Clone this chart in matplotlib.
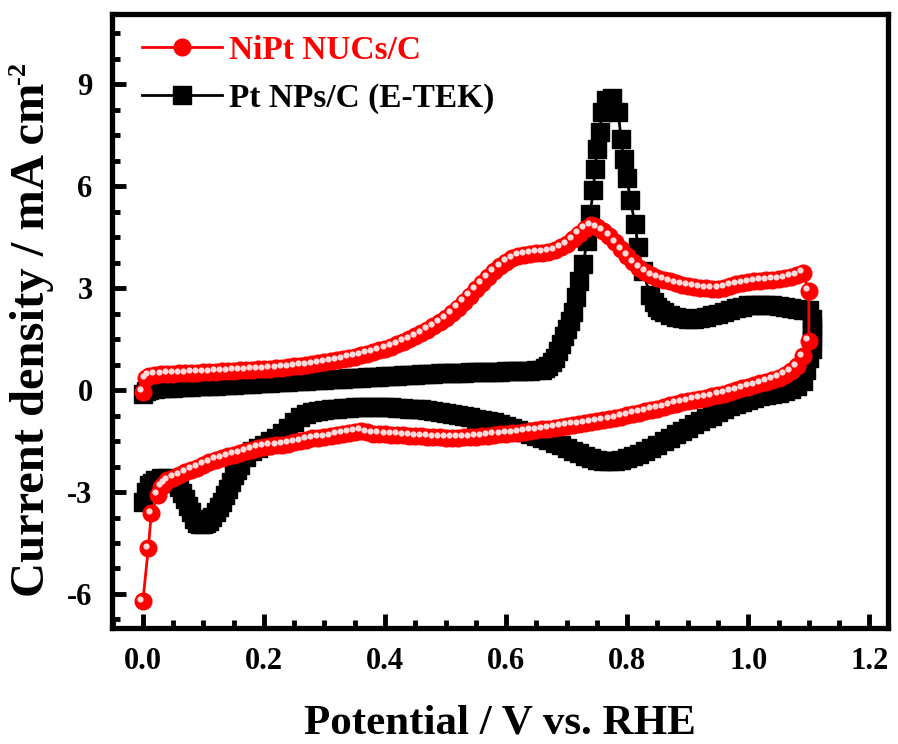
import numpy as np
import matplotlib
matplotlib.use("Agg")
import matplotlib.pyplot as plt
from matplotlib.ticker import MultipleLocator, AutoMinorLocator
from matplotlib.transforms import offset_copy

# NiPt NUCs/C: anodic sweep then cathodic sweep (V vs RHE, mA cm^-2)
nipt_x = [
    0.00, 0.005, 0.01, 0.02, 0.03, 0.04, 0.05, 0.06, 0.07, 0.08, 0.09, 0.10,
    0.11, 0.12, 0.13, 0.14, 0.15, 0.16, 0.17, 0.18, 0.19, 0.20, 0.21, 0.22,
    0.23, 0.24, 0.25, 0.26, 0.27, 0.28, 0.29, 0.30, 0.31, 0.32, 0.33, 0.34,
    0.35, 0.36, 0.37, 0.38, 0.39, 0.40, 0.41, 0.42, 0.43, 0.44, 0.45, 0.46,
    0.47, 0.48, 0.49, 0.50, 0.51, 0.52, 0.53, 0.54, 0.55, 0.56, 0.57, 0.58,
    0.59, 0.60, 0.61, 0.62, 0.63, 0.64, 0.65, 0.66, 0.67, 0.68, 0.69, 0.70,
    0.71, 0.72, 0.73, 0.74, 0.75, 0.76, 0.77, 0.78, 0.79, 0.80, 0.81, 0.82,
    0.83, 0.84, 0.85, 0.86, 0.87, 0.88, 0.89, 0.90, 0.91, 0.92, 0.93, 0.94,
    0.95, 0.96, 0.97, 0.98, 0.99, 1.00, 1.01, 1.02, 1.03, 1.04, 1.05, 1.06,
    1.07, 1.08, 1.09, 1.10,
    1.10, 1.09, 1.08, 1.07, 1.06, 1.05, 1.04, 1.03, 1.02, 1.01, 1.00, 0.99,
    0.98, 0.97, 0.96, 0.95, 0.94, 0.93, 0.92, 0.91, 0.90, 0.89, 0.88, 0.87,
    0.86, 0.85, 0.84, 0.83, 0.82, 0.81, 0.80, 0.79, 0.78, 0.77, 0.76, 0.75,
    0.74, 0.73, 0.72, 0.71, 0.70, 0.69, 0.68, 0.67, 0.66, 0.65, 0.64, 0.63,
    0.62, 0.61, 0.60, 0.59, 0.58, 0.57, 0.56, 0.55, 0.54, 0.53, 0.52, 0.51,
    0.50, 0.49, 0.48, 0.47, 0.46, 0.45, 0.44, 0.43, 0.42, 0.41, 0.40, 0.39,
    0.38, 0.37, 0.36, 0.35, 0.34, 0.33, 0.32, 0.31, 0.30, 0.29, 0.28, 0.27,
    0.26, 0.25, 0.24, 0.23, 0.22, 0.21, 0.20, 0.19, 0.18, 0.17, 0.16, 0.15,
    0.14, 0.13, 0.12, 0.11, 0.10, 0.09, 0.08, 0.07, 0.06, 0.05, 0.04, 0.035,
    0.03, 0.025, 0.014, 0.009, 0.00,
]
nipt_j = [
    -0.05, 0.35, 0.42, 0.45, 0.47, 0.48, 0.49, 0.50, 0.50, 0.51, 0.51, 0.52,
    0.53, 0.54, 0.55, 0.56, 0.57, 0.58, 0.59, 0.60, 0.61, 0.62, 0.63, 0.65,
    0.66, 0.68, 0.70, 0.72, 0.74, 0.77, 0.79, 0.82, 0.85, 0.88, 0.91, 0.95,
    0.99, 1.03, 1.07, 1.12, 1.17, 1.22, 1.28, 1.35, 1.42, 1.50, 1.59, 1.68,
    1.78, 1.88, 2.00, 2.12, 2.26, 2.42, 2.60, 2.78, 2.97, 3.15, 3.33, 3.50,
    3.65, 3.78, 3.88, 3.95, 3.99, 4.02, 4.04, 4.05, 4.08, 4.12, 4.20, 4.30,
    4.45, 4.60, 4.75, 4.85, 4.80, 4.70, 4.55, 4.35, 4.15, 3.95, 3.77, 3.60,
    3.48, 3.38, 3.31, 3.25, 3.20, 3.15, 3.11, 3.08, 3.05, 3.02, 3.00, 2.98,
    2.99, 3.02, 3.07, 3.12, 3.15, 3.18, 3.20, 3.22, 3.23, 3.25, 3.27, 3.30,
    3.34, 3.38, 3.45, 2.92,
    1.45, 1.00, 0.70, 0.55, 0.45, 0.37, 0.30, 0.25, 0.20, 0.15, 0.10, 0.05,
    0.00, -0.05, -0.10, -0.14, -0.18, -0.22, -0.25, -0.28, -0.32, -0.36, -0.40, -0.45,
    -0.50, -0.54, -0.58, -0.62, -0.66, -0.70, -0.74, -0.78, -0.82, -0.85, -0.88, -0.91,
    -0.94, -0.97, -1.00, -1.02, -1.05, -1.08, -1.10, -1.13, -1.15, -1.18, -1.20, -1.23,
    -1.25, -1.27, -1.28, -1.30, -1.32, -1.34, -1.36, -1.37, -1.38, -1.39, -1.40, -1.40,
    -1.40, -1.39, -1.38, -1.37, -1.36, -1.35, -1.34, -1.33, -1.32, -1.31, -1.30, -1.29,
    -1.28, -1.24, -1.20, -1.22, -1.25, -1.28, -1.32, -1.35, -1.38, -1.40, -1.42, -1.46,
    -1.50, -1.54, -1.58, -1.60, -1.62, -1.64, -1.66, -1.70, -1.75, -1.80, -1.85, -1.90,
    -1.95, -2.00, -2.05, -2.12, -2.20, -2.28, -2.35, -2.42, -2.50, -2.58, -2.65, -2.75,
    -2.85, -3.08, -3.62, -4.65, -6.22,
]

# Pt NPs/C (E-TEK)
pt_x = [
    0.00, 0.005, 0.01, 0.02, 0.03, 0.04, 0.05, 0.06, 0.07, 0.08, 0.09, 0.10,
    0.11, 0.12, 0.13, 0.14, 0.15, 0.16, 0.17, 0.18, 0.19, 0.20, 0.21, 0.22,
    0.23, 0.24, 0.25, 0.26, 0.27, 0.28, 0.29, 0.30, 0.31, 0.32, 0.33, 0.34,
    0.35, 0.36, 0.37, 0.38, 0.39, 0.40, 0.41, 0.42, 0.43, 0.44, 0.45, 0.46,
    0.47, 0.48, 0.49, 0.50, 0.51, 0.52, 0.53, 0.54, 0.55, 0.56, 0.57, 0.58,
    0.59, 0.60, 0.61, 0.62, 0.63, 0.64, 0.65, 0.66, 0.665, 0.67, 0.675, 0.68,
    0.685, 0.69, 0.695, 0.70, 0.705, 0.71, 0.715, 0.72, 0.727, 0.734, 0.739, 0.744,
    0.747, 0.75, 0.755, 0.758, 0.765, 0.775, 0.785, 0.79, 0.794, 0.80, 0.805, 0.813,
    0.818, 0.826, 0.838, 0.845, 0.85, 0.855, 0.86, 0.87, 0.88, 0.89, 0.90, 0.91,
    0.92, 0.93, 0.94, 0.95, 0.96, 0.97, 0.98, 0.99, 1.00, 1.01, 1.02, 1.03,
    1.04, 1.05, 1.06, 1.07, 1.08, 1.09, 1.10, 1.105, 1.105, 1.105, 1.105,
    1.105, 1.10, 1.095, 1.09, 1.08, 1.07, 1.06, 1.05, 1.04, 1.03, 1.02, 1.01,
    1.00, 0.99, 0.98, 0.97, 0.96, 0.95, 0.94, 0.93, 0.92, 0.91, 0.90, 0.89,
    0.88, 0.87, 0.86, 0.85, 0.84, 0.83, 0.82, 0.81, 0.80, 0.79, 0.78, 0.77,
    0.76, 0.75, 0.74, 0.73, 0.72, 0.71, 0.70, 0.69, 0.68, 0.67, 0.66, 0.65,
    0.64, 0.63, 0.62, 0.61, 0.60, 0.59, 0.58, 0.57, 0.56, 0.55, 0.54, 0.53,
    0.52, 0.51, 0.50, 0.49, 0.48, 0.47, 0.46, 0.45, 0.44, 0.43, 0.42, 0.41,
    0.40, 0.39, 0.38, 0.37, 0.36, 0.35, 0.34, 0.33, 0.32, 0.31, 0.30, 0.29,
    0.28, 0.27, 0.26, 0.25, 0.24, 0.23, 0.22, 0.21, 0.20, 0.19, 0.18, 0.17,
    0.16, 0.155, 0.15, 0.145, 0.14, 0.135, 0.13, 0.125, 0.12, 0.115, 0.11, 0.105,
    0.10, 0.095, 0.09, 0.085, 0.08, 0.075, 0.07, 0.065, 0.06, 0.055, 0.05, 0.045,
    0.04, 0.03, 0.02, 0.015, 0.01, 0.005, 0.00,
]
pt_j = [
    -0.10, -0.02, 0.00, 0.03, 0.05, 0.06, 0.07, 0.08, 0.09, 0.10, 0.11, 0.12,
    0.125, 0.13, 0.14, 0.15, 0.16, 0.17, 0.18, 0.19, 0.20, 0.21, 0.22, 0.23,
    0.24, 0.25, 0.26, 0.27, 0.28, 0.29, 0.30, 0.31, 0.32, 0.33, 0.34, 0.35,
    0.36, 0.37, 0.38, 0.39, 0.40, 0.41, 0.42, 0.43, 0.44, 0.45, 0.46, 0.47,
    0.48, 0.49, 0.495, 0.50, 0.505, 0.51, 0.515, 0.52, 0.525, 0.53, 0.535, 0.54,
    0.545, 0.55, 0.555, 0.56, 0.565, 0.57, 0.58, 0.60, 0.65, 0.72, 0.82, 0.95,
    1.15, 1.36, 1.58, 1.80, 2.05, 2.30, 2.75, 3.20, 3.70, 4.40, 5.20, 5.90,
    6.50, 7.10, 7.60, 8.20, 8.55, 8.60, 8.20, 7.40, 6.80, 6.25, 5.60, 4.90,
    4.20, 3.50, 2.80, 2.60, 2.45, 2.37, 2.30, 2.22, 2.15, 2.12, 2.10, 2.10,
    2.12, 2.15, 2.20, 2.25, 2.30, 2.36, 2.42, 2.46, 2.50, 2.51, 2.52, 2.51,
    2.50, 2.48, 2.45, 2.42, 2.40, 2.37, 2.35, 2.10, 1.90, 1.70, 1.50,
    1.20, 0.95, 0.60, 0.26, 0.12, 0.04, -0.03, -0.07, -0.10, -0.14, -0.18, -0.23,
    -0.28, -0.34, -0.40, -0.47, -0.55, -0.65, -0.75, -0.82, -0.90, -1.00, -1.10, -1.20,
    -1.30, -1.40, -1.50, -1.60, -1.70, -1.80, -1.88, -1.95, -2.00, -2.05, -2.08, -2.09,
    -2.08, -2.05, -2.00, -1.93, -1.85, -1.78, -1.70, -1.62, -1.55, -1.48, -1.42, -1.36,
    -1.30, -1.24, -1.18, -1.11, -1.05, -1.00, -0.95, -0.91, -0.88, -0.84, -0.80, -0.76,
    -0.72, -0.69, -0.66, -0.63, -0.60, -0.58, -0.56, -0.55, -0.54, -0.53, -0.52, -0.51,
    -0.50, -0.50, -0.50, -0.50, -0.50, -0.51, -0.52, -0.53, -0.55, -0.56, -0.58, -0.61,
    -0.65, -0.71, -0.80, -0.94, -1.10, -1.25, -1.40, -1.50, -1.60, -1.70, -1.80, -1.98,
    -2.20, -2.35, -2.50, -2.70, -2.90, -3.10, -3.30, -3.45, -3.60, -3.73, -3.85, -3.92,
    -3.95, -3.95, -3.90, -3.78, -3.60, -3.40, -3.20, -3.02, -2.85, -2.73, -2.65, -2.62,
    -2.60, -2.60, -2.65, -2.72, -2.80, -3.00, -3.30,
]

labels = ["NiPt NUCs/C", "Pt NPs/C (E-TEK)"]

plt.rcParams["font.family"] = ["Liberation Serif", "DejaVu Serif"]
plt.rcParams["font.weight"] = "bold"

fig = plt.figure(figsize=(8.98, 7.44), dpi=100)
ax = fig.add_axes([0.1247, 0.156, 0.8643, 0.825])

ln_pt, = ax.plot(pt_x, pt_j, color="black", lw=2, marker="s", ms=13,
                 mec="black", mfc="black", zorder=2)
ln_ni, = ax.plot(nipt_x, nipt_j, color="red", lw=2, marker="o", ms=12,
                 mec="red", mfc="red", zorder=3)
# small shine on each sphere marker
hl_trans = offset_copy(ax.transData, fig=fig, x=-2.5, y=2.5, units="dots")
ax.plot(nipt_x, nipt_j, ls="none", marker="o", ms=4.5, mfc="#ffdada",
        mec="none", transform=hl_trans, zorder=4)

ax.set_xlim(-0.051, 1.231)
ax.set_ylim(-7.0, 11.07)
ax.set_xticks([0.0, 0.2, 0.4, 0.6, 0.8, 1.0, 1.2])
ax.set_xticklabels(["0.0", "0.2", "0.4", "0.6", "0.8", "1.0", "1.2"])
ax.set_yticks([-6, -3, 0, 3, 6, 9])
ax.set_yticklabels(["-6", "-3", "0", "3", "6", "9"])
ax.xaxis.set_minor_locator(AutoMinorLocator(4))
ax.yaxis.set_minor_locator(AutoMinorLocator(4))
ax.tick_params(which="both", direction="in", top=False, right=False,
               labelsize=22, width=3.5)
ax.tick_params(which="major", length=10, pad=14)
ax.tick_params(which="minor", length=6)
for s in ax.spines.values():
    s.set_linewidth(3.8)

ax.set_xlabel("Potential / V vs. RHE", fontsize=31, fontweight="bold", labelpad=20)
ax.set_ylabel("Current density / mA cm", fontsize=35, fontweight="bold")
ax.yaxis.set_label_coords(-0.075, 0.47)

leg = ax.legend([ln_ni, ln_pt], labels, loc="upper left",
                bbox_to_anchor=(0.0, 1.015), frameon=False, fontsize=24,
                handlelength=2.4, handletextpad=0.2, labelspacing=0.5)
for t, c in zip(leg.get_texts(), ["red", "black"]):
    t.set_color(c)

# superscript of the unit, placed after the y label
fig.canvas.draw()
bb = ax.yaxis.label.get_window_extent()
fig.text(bb.x0 - 3, bb.y1 - 2, "-2", rotation=90, fontsize=19, fontweight="bold",
         ha="left", va="bottom", transform=None)

fig.savefig("out.png", dpi=100)
